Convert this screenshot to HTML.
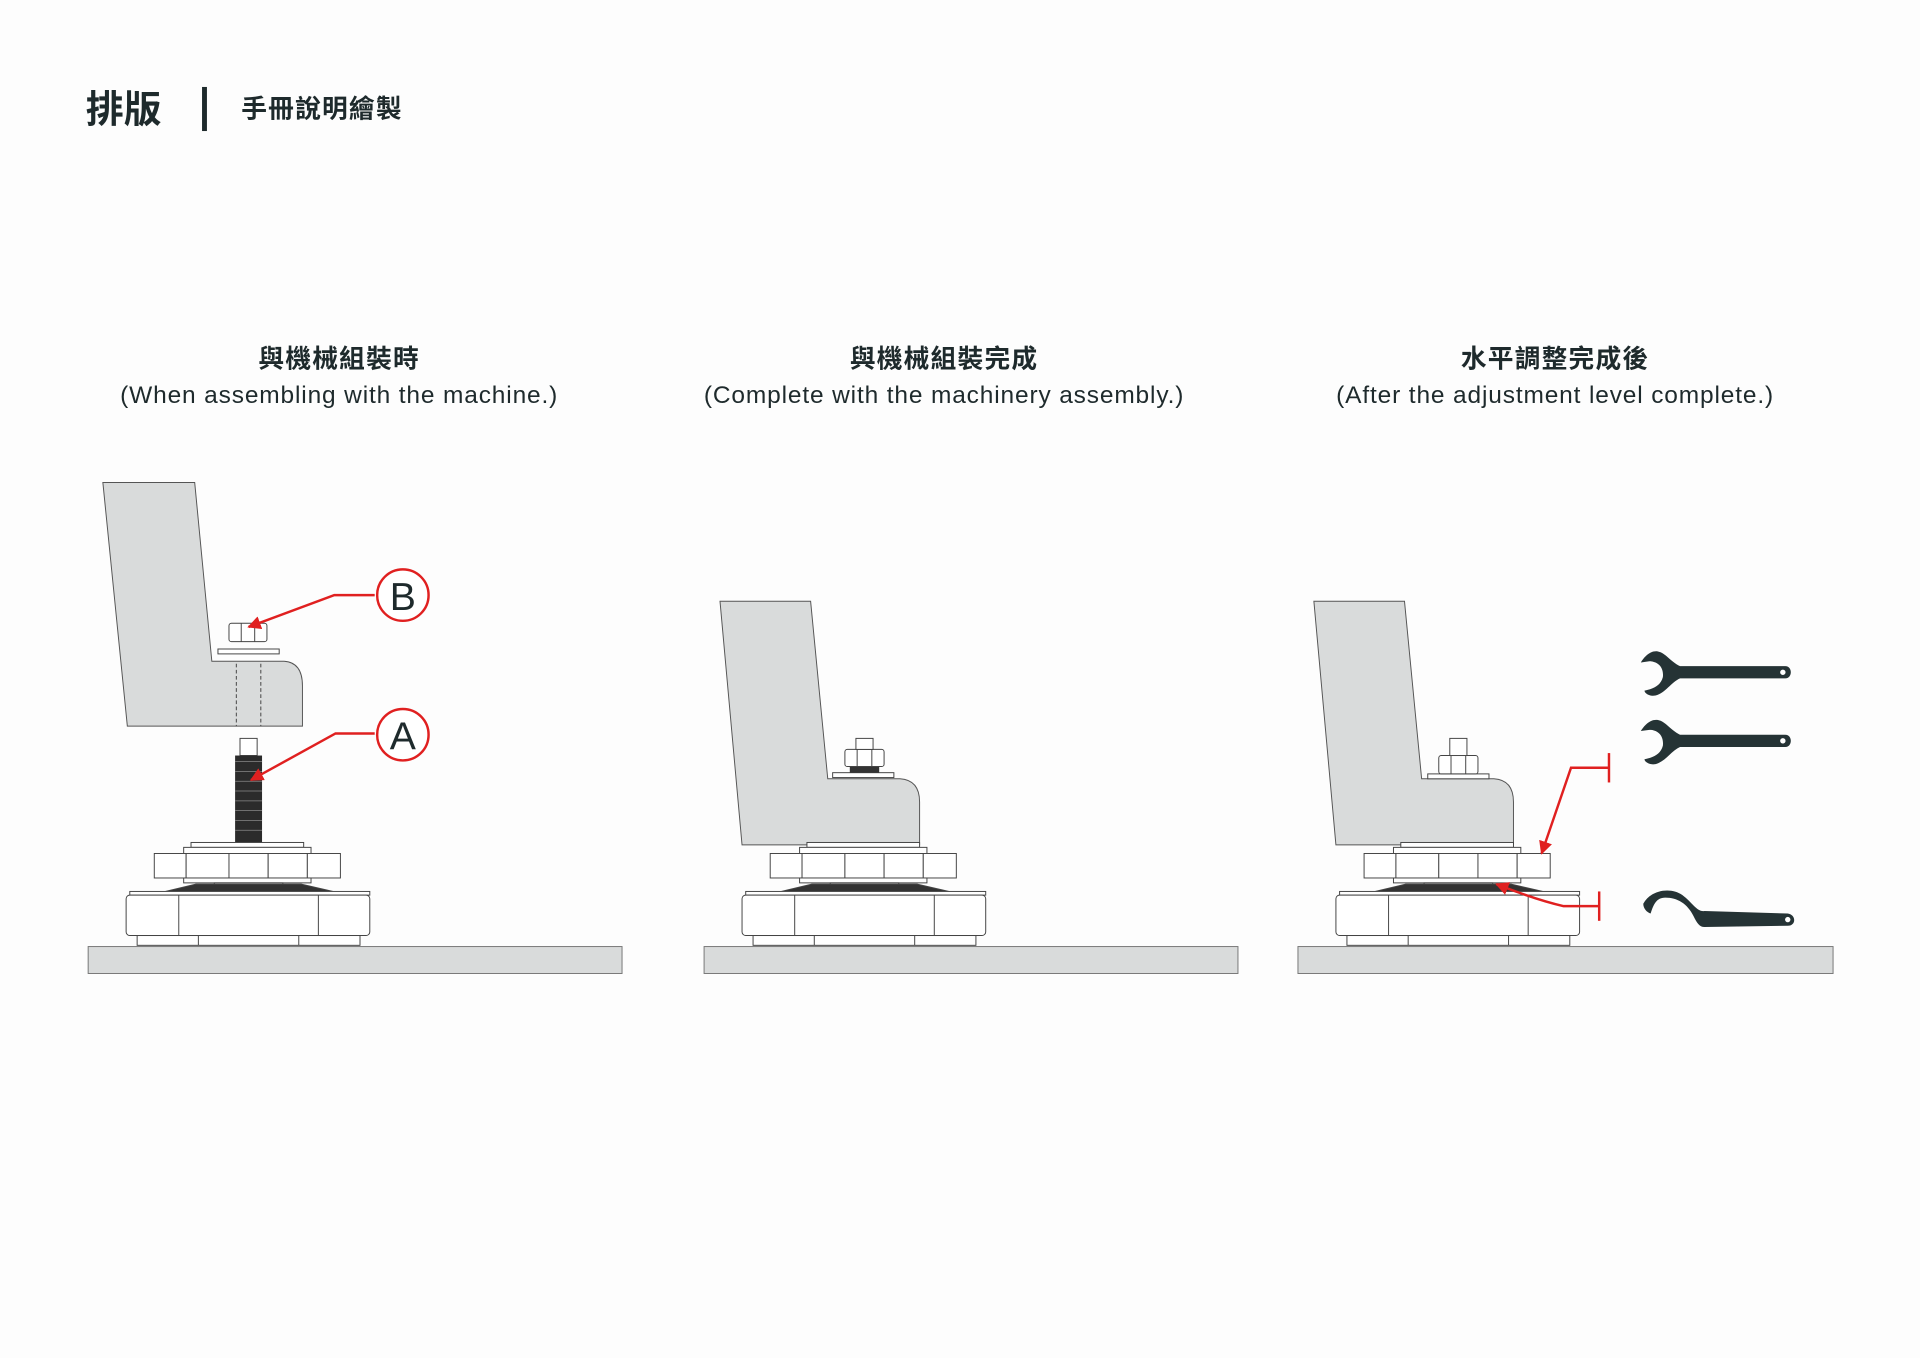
<!DOCTYPE html>
<html><head><meta charset="utf-8"><style>
html,body{margin:0;padding:0;background:#fdfdfd;}
svg{display:block;}
text{font-family:"Liberation Sans","Noto Sans CJK TC",sans-serif;fill:#1e2a2c;}
</style></head><body>
<svg width="1920" height="1358" viewBox="0 0 1568 1109" xmlns="http://www.w3.org/2000/svg">
<defs>
<g id="foot" stroke="#444" stroke-width="0.8" fill="#fff">
  <rect x="156" y="688" width="92" height="4"/>
  <rect x="150" y="692" width="104" height="5"/>
  <rect x="126" y="697" width="26" height="20"/>
  <rect x="152" y="697" width="35" height="20"/>
  <rect x="187" y="697" width="32" height="20"/>
  <rect x="219" y="697" width="32" height="20"/>
  <rect x="251" y="697" width="27" height="20"/>
  <rect x="150" y="717" width="104" height="4"/>
  <rect x="175" y="721" width="56" height="4"/>
  <path d="M135 728 L160 722 L246 722 L272 728 Z" fill="#333"/>
  <rect x="106" y="728" width="196" height="3"/>
  <rect x="103" y="731" width="199" height="33" rx="3"/>
  <line x1="146" y1="731" x2="146" y2="764"/>
  <line x1="260" y1="731" x2="260" y2="764"/>
  <rect x="112" y="764" width="182" height="8"/>
  <line x1="162" y1="764" x2="162" y2="772"/>
  <line x1="244" y1="764" x2="244" y2="772"/>
</g>
<marker id="ah" viewBox="0 0 10 10" refX="9" refY="5" markerWidth="8" markerHeight="8" markerUnits="userSpaceOnUse" orient="auto"><path d="M0 0 L10 5 L0 10 Z" fill="#e02020"/></marker>
<marker id="ah2" viewBox="0 0 10 10" refX="9" refY="5" markerWidth="11" markerHeight="11" markerUnits="userSpaceOnUse" orient="auto"><path d="M0 0 L10 5 L0 10 Z" fill="#e02020"/></marker>
<g id="wrench" fill="#253335">
  <path d="M1340 541 C1343 536 1348 531 1354 532 C1360 533 1364 540 1372 544 L1458 544 C1464 544 1464 554 1458 554 L1372 554 C1365 557 1360 566 1352 568 C1347 569 1343 566 1343 564 C1348 563 1356 561 1358 553 C1359 545 1354 540 1347 540 Z"/>
  <circle cx="1456" cy="549" r="2.2" fill="#fff"/>
</g>
</defs>

<!-- header -->
<text x="70" y="100" font-size="31" font-weight="bold">排版</text>
<rect x="165" y="71" width="4" height="36" fill="#1e2a2c"/>
<text x="197" y="96" font-size="21" font-weight="bold" letter-spacing="1">手冊說明繪製</text>

<!-- titles -->
<g font-size="21" text-anchor="middle">
<text x="277" y="300" font-weight="bold" letter-spacing="1">與機械組裝時</text>
<text x="277" y="329" font-size="20" letter-spacing="0.7">(When assembling with the machine.)</text>
<text x="771" y="300" font-weight="bold" letter-spacing="1">與機械組裝完成</text>
<text x="771" y="329" font-size="20" letter-spacing="0.7">(Complete with the machinery assembly.)</text>
<text x="1270" y="300" font-weight="bold" letter-spacing="1">水平調整完成後</text>
<text x="1270" y="329" font-size="20" letter-spacing="0.7">(After the adjustment level complete.)</text>
</g>

<!-- floors -->
<g fill="#d9dbdb" stroke="#777" stroke-width="0.8">
<rect x="72" y="773" width="436" height="22"/>
<rect x="575" y="773" width="436" height="22"/>
<rect x="1060" y="773" width="437" height="22"/>
</g>

<!-- panel 1 -->
<path d="M84 394 L159 394 L173 540 L232 540 Q247 541 247 560 L247 593 L104 593 Z" fill="#d9dbdb" stroke="#555" stroke-width="0.8"/>
<g stroke="#444" stroke-width="0.8" fill="none" stroke-dasharray="3,2"><line x1="193" y1="542" x2="193" y2="593"/><line x1="213" y1="542" x2="213" y2="593"/></g>
<rect x="178" y="530" width="50" height="4" fill="#fff" stroke="#444" stroke-width="0.8"/>
<rect x="187" y="509" width="31" height="15" fill="#fff" stroke="#444" stroke-width="0.8" rx="2"/>
<line x1="197" y1="509" x2="197" y2="524" stroke="#444" stroke-width="0.8"/>
<line x1="208" y1="509" x2="208" y2="524" stroke="#444" stroke-width="0.8"/>
<rect x="196" y="603" width="14" height="14" fill="#fff" stroke="#444" stroke-width="0.8"/>
<rect x="192" y="617" width="22" height="71" fill="#2b2b2b"/>
<g stroke="#888" stroke-width="0.6">
<line x1="192" y1="622" x2="214" y2="622"/><line x1="192" y1="630" x2="214" y2="630"/><line x1="192" y1="638" x2="214" y2="638"/><line x1="192" y1="646" x2="214" y2="646"/><line x1="192" y1="654" x2="214" y2="654"/><line x1="192" y1="662" x2="214" y2="662"/><line x1="192" y1="670" x2="214" y2="670"/><line x1="192" y1="678" x2="214" y2="678"/>
</g>
<use href="#foot"/>
<g stroke="#e02020" stroke-width="2" fill="none">
<polyline points="306,486 273,486 203,512" marker-end="url(#ah2)"/>
<polyline points="306,599 274,599 205,637" marker-end="url(#ah2)"/>
<circle cx="329" cy="486" r="21" fill="#fff"/>
<circle cx="329" cy="600" r="21" fill="#fff"/>
</g>
<text x="329" y="498" font-size="32" text-anchor="middle">B</text>
<text x="329" y="612" font-size="32" text-anchor="middle">A</text>

<!-- panel 2 -->
<path d="M588 491 L662 491 L676 636 L735 636 Q751 637 751 655 L751 690 L606 690 Z" fill="#d9dbdb" stroke="#555" stroke-width="0.8"/>
<rect x="680" y="631" width="50" height="4" fill="#fff" stroke="#444" stroke-width="0.8"/>
<rect x="694" y="624" width="24" height="7" fill="#333"/>
<rect x="690" y="612" width="32" height="14" fill="#fff" stroke="#444" stroke-width="0.8" rx="2"/>
<line x1="700" y1="612" x2="700" y2="626" stroke="#444" stroke-width="0.8"/>
<line x1="712" y1="612" x2="712" y2="626" stroke="#444" stroke-width="0.8"/>
<rect x="699" y="603" width="14" height="9" fill="#fff" stroke="#444" stroke-width="0.8"/>
<rect x="660" y="690" width="90" height="6" fill="#fff" stroke="#444" stroke-width="0.8"/>
<use href="#foot" transform="translate(503,0)"/>

<!-- panel 3 -->
<path d="M1073 491 L1147 491 L1161 636 L1220 636 Q1236 637 1236 655 L1236 690 L1091 690 Z" fill="#d9dbdb" stroke="#555" stroke-width="0.8"/>
<rect x="1166" y="632" width="50" height="4" fill="#fff" stroke="#444" stroke-width="0.8"/>
<rect x="1175" y="617" width="32" height="15" fill="#fff" stroke="#444" stroke-width="0.8" rx="2"/>
<line x1="1185" y1="617" x2="1185" y2="632" stroke="#444" stroke-width="0.8"/>
<line x1="1197" y1="617" x2="1197" y2="632" stroke="#444" stroke-width="0.8"/>
<rect x="1184" y="603" width="14" height="14" fill="#fff" stroke="#444" stroke-width="0.8"/>
<rect x="1148" y="690" width="86" height="6" fill="#fff" stroke="#444" stroke-width="0.8"/>
<use href="#foot" transform="translate(988,0)"/>
<g stroke="#e02020" stroke-width="2" fill="none">
<polyline points="1314,627 1283,627 1259,697" marker-end="url(#ah2)"/>
<line x1="1314" y1="615" x2="1314" y2="639"/>
<path d="M1306 740 L1277 740 Q1255 735 1222 722" marker-end="url(#ah2)"/>
<line x1="1306" y1="728" x2="1306" y2="752"/>
</g>
<use href="#wrench"/>
<use href="#wrench" transform="translate(0,56)"/>
<path d="M1342 738 C1348 727 1364 724 1374 731 C1382 737 1386 745 1392 744 L1460 746 C1467 747 1467 756 1460 756 L1392 757 C1388 757 1386 754 1383 748 C1378 738 1370 733 1360 733 C1352 733 1350 740 1348 746 C1345 745 1342 742 1342 738 Z" fill="#253335"/>
<circle cx="1460" cy="751" r="2.2" fill="#fff"/>
</svg>
</body></html>
